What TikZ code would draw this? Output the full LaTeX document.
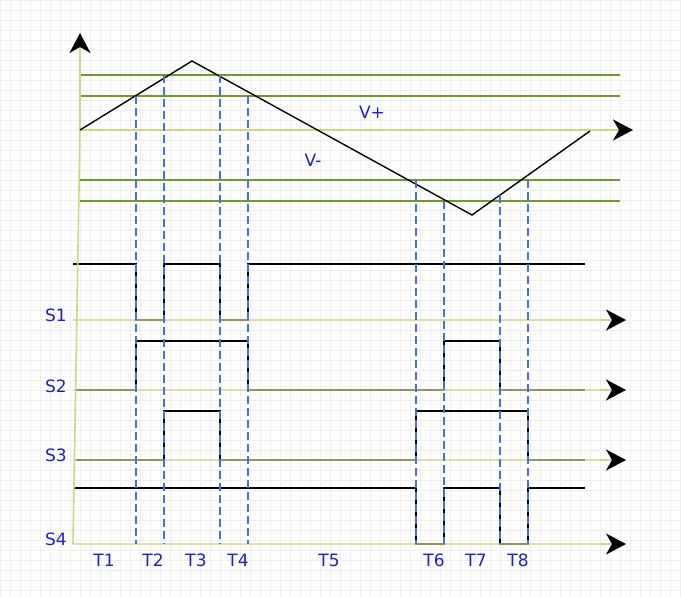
\documentclass[tikz,border=0pt]{standalone}
\usepackage{fontspec}
\setmainfont{DejaVu Sans}
\usetikzlibrary{arrows.meta}
\definecolor{gridc}{HTML}{EFEFEF}
\definecolor{axisy}{HTML}{D6D288}
\definecolor{lvl}{HTML}{6F9A2E}
\definecolor{dsh}{HTML}{4472D0}
\definecolor{lbl}{HTML}{2020C0}
\tikzset{
  axisline/.style={draw=axisy, line width=1.6pt},
  tip/.style={-{Stealth[length=20pt,width=21pt,inset=6pt,black]}},
  level/.style={draw=lvl, line width=1.9pt},
  sig/.style={draw=black, line width=1.4pt},
  cut/.style={draw=dsh, line width=1.3pt, dash pattern=on 8pt off 4pt},
  lab/.style={text=lbl, font=\fontsize{17}{19}\selectfont, inner sep=0pt}
}
\begin{document}
\begin{tikzpicture}[x=1pt,y=-1pt]
\useasboundingbox (0,0) rectangle (681,597);
\fill[white] (0,0) rectangle (681,597);
\draw[gridc, line width=0.5pt, step=10pt] (0,0) grid (681,597);

% signals (drawn first, yellow baselines over them)
\draw[sig] (73,264) -- (136,264) -- (136,320) -- (164,320) -- (164,264) -- (220,264) -- (220,320) -- (248,320) -- (248,264) -- (585,264);
\draw[sig] (76,390) -- (136,390) -- (136,341) -- (248,341) -- (248,390) -- (444,390) -- (444,341) -- (500,341) -- (500,390) -- (585,390);
\draw[sig] (76,460) -- (164,460) -- (164,411) -- (220,411) -- (220,460) -- (416,460) -- (416,411) -- (528,411) -- (528,460) -- (585,460);
\draw[sig] (73,488) -- (416,488) -- (416,544) -- (444,544) -- (444,488) -- (500,488) -- (500,544) -- (528,544) -- (528,488) -- (585,488);

% level lines
\draw[level] (80,75) -- (620,75);
\draw[level] (80,96) -- (620,96);
\draw[level] (80,180) -- (620,180);
\draw[level] (80,201) -- (620,201);

% axes
\draw[axisline, tip] (73,544) -- (80,130) -- (80,33);
\draw[axisline, tip] (80,130) -- (633,130);
\foreach \yy in {320,390,460,544}{
  \draw[axisline, opacity=0.7] (73,\yy) -- (608,\yy);
  \draw[axisline, tip] (600,\yy) -- (626,\yy);
}

% triangle carrier
\draw[sig] (80,130) -- (192,61) -- (472,215) -- (590,131);

% dashed cuts
\draw[cut] (136,96) -- (136,544);
\draw[cut] (164,75) -- (164,544);
\draw[cut] (220,75) -- (220,544);
\draw[cut] (248,96) -- (248,544);
\draw[cut] (416,180) -- (416,544);
\draw[cut] (444,201) -- (444,544);
\draw[cut] (500,195) -- (500,544);
\draw[cut] (528,180) -- (528,544);

% labels
\node[lab] (vp) at (372,112) {V+};
\node[lab] (vm) at (313,160) {V-};
\node[lab] (s1) at (56,315) {S1};
\node[lab] (s2) at (56,386) {S2};
\node[lab] (s3) at (56,455) {S3};
\node[lab] (s4) at (56,539) {S4};
\node[lab] (t1) at (104,560) {T1};
\node[lab] (t2) at (153,560) {T2};
\node[lab] (t3) at (196,560) {T3};
\node[lab] (t4) at (238,560) {T4};
\node[lab] (t5) at (329,560) {T5};
\node[lab] (t6) at (434,560) {T6};
\node[lab] (t7) at (476,560) {T7};
\node[lab] (t8) at (518,560) {T8};
\end{tikzpicture}
\end{document}
